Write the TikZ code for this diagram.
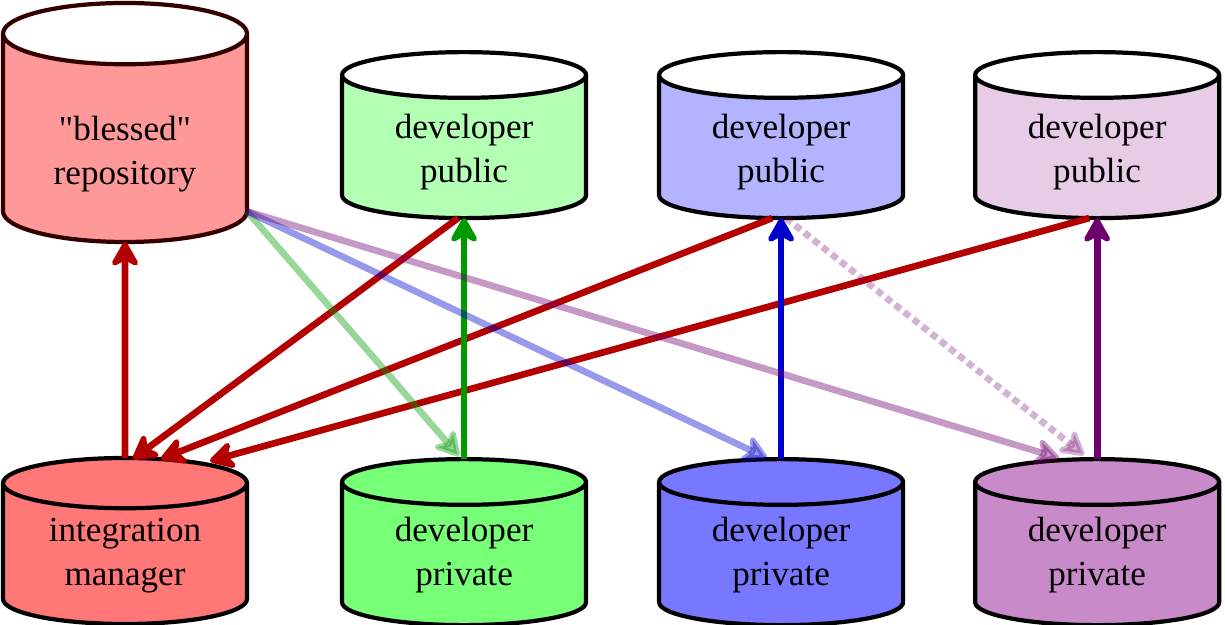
\documentclass[tikz,border=0pt]{standalone}
\usepackage{fontspec}
\setmainfont{Liberation Serif}
\newfontfamily\plainquote{Liberation Serif}
\usetikzlibrary{positioning}
\usetikzlibrary{shapes.geometric,arrows.meta}

\definecolor{redfillA}{HTML}{FF9999}
\definecolor{redfillB}{HTML}{FF7777}
\definecolor{greenfillA}{HTML}{B3FFB3}
\definecolor{greenfillB}{HTML}{77FF77}
\definecolor{bluefillA}{HTML}{B3B3FF}
\definecolor{bluefillB}{HTML}{7777FF}
\definecolor{purplefillA}{HTML}{E6CCE6}
\definecolor{purplefillB}{HTML}{C88AC8}
\definecolor{redline}{HTML}{B30000}
\definecolor{greenline}{HTML}{009900}
\definecolor{blueline}{HTML}{0000CC}
\definecolor{purpleline}{HTML}{6E006E}
\definecolor{blessdraw}{HTML}{330000}

% text of a repository, pushed a little down in its cylinder
\newcommand{\repotext}[2][0.4mm]{\raisebox{-#1}[\height][\depth]{\begin{tabular}{@{}c@{}}#2\end{tabular}}}

\tikzset{
  repo/.style={cylinder, shape border rotate=90, draw, line width=1.2pt,
    aspect=0.33, minimum width=2.44cm, minimum height=1.66cm,
    inner sep=0pt, outer sep=0pt, font=\fontsize{10}{12.5}\selectfont},
  pubrepo/.style={repo, cylinder uses custom fill, cylinder end fill=white, cylinder body fill=#1},
  privrepo/.style={repo, fill=#1},
  flow/.style={line width=1.9pt, -{Stealth[length=8.5pt,width=9.5pt,inset=2.5pt,round]}},
  faint/.style={flow, draw opacity=0.4, fill opacity=0.4},
}

\begin{document}
\begin{tikzpicture}
    \useasboundingbox (0,0) rectangle (12.25,6.24);

    \node(integ) [privrepo=redfillB, anchor=north] at (1.25,1.66) {\repotext[0mm]{integration\\manager}};
    \node(gpriv) [privrepo=greenfillB, right = 0.95cm of integ] {\repotext[0mm]{developer\\private}};
    \node(bpriv) [privrepo=bluefillB, right = 0.73cm of gpriv] {\repotext[0mm]{developer\\private}};
    \node(ppriv) [privrepo=purplefillB, right = 0.72cm of bpriv] {\repotext[0mm]{developer\\private}};

    \node(bless) [pubrepo=redfillA, draw=blessdraw, aspect=0.43, minimum height=2.39cm,
      anchor=north] at (1.25,6.21) {\repotext[1.5mm]{{\plainquote"}blessed{\plainquote"}\\repository}};
    \node(gpub) [pubrepo=greenfillA, above = 2.41cm of gpriv] {\repotext{developer\\public}};
    \node(bpub) [pubrepo=bluefillA, above = 2.41cm of bpriv] {\repotext{developer\\public}};
    \node(ppub) [pubrepo=purplefillA, above = 2.41cm of ppriv] {\repotext{developer\\public}};

    % pulls into the integration manager
    \draw [flow, redline] ([xshift=-0.06cm]gpub.south) -- ([xshift=0.08cm,yshift=-0.01cm]integ.north);
    \draw [flow, redline] ([xshift=-0.09cm]bpub.south) -- ([xshift=0.36cm,yshift=-0.01cm]integ.north);
    \draw [flow, redline] ([xshift=-0.08cm]ppub.south) -- ([xshift=0.85cm,yshift=-0.03cm]integ.north);
    \draw [flow, redline] (integ.north) -- (bless.south);

    % pushes to the public repositories
    \draw [flow, greenline] (gpriv.north) -- (gpub.south);
    \draw [flow, blueline] (bpriv.north) -- (bpub.south);
    \draw [flow, purpleline] (ppriv.north) -- (ppub.south);

    % pulls from the blessed repository
    \draw [faint, greenline] (bless.before bottom) -- ([xshift=-0.05cm,yshift=0.03cm]gpriv.north);
    \draw [faint, blueline] (bless.before bottom) -- ([xshift=-0.14cm,yshift=0.01cm]bpriv.north);
    \draw [faint, purpleline] (bless.before bottom) -- ([xshift=-0.38cm,yshift=0.01cm]ppriv.north);
    \draw [faint, purpleline, draw opacity=0.3, fill opacity=0.3, dash pattern=on 2pt off 1.3pt]
      ([xshift=0.05cm]bpub.south) -- ([xshift=-0.13cm,yshift=0.04cm]ppriv.north);
  \end{tikzpicture}
\end{document}
